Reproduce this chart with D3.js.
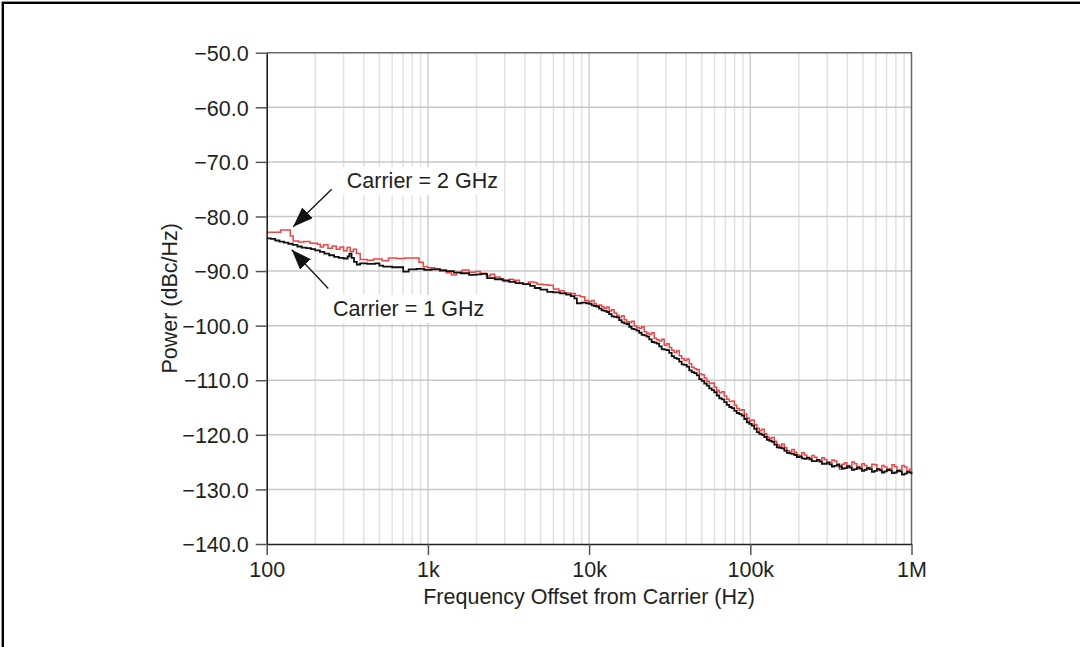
<!DOCTYPE html>
<html>
<head>
<meta charset="utf-8">
<script src="https://cdn.jsdelivr.net/npm/d3@7"></script>
<style>
  html, body { margin: 0; padding: 0; background: #fff; }
  svg { display: block; }
</style>
</head>
<body>
<div id="chart"></div>
<script>
// Phase noise readings [offset Hz, dBc/Hz]
const carrier1GHz = [
  [100, -84.0], [106, -84.1], [113, -84.4], [120, -84.6], [128, -84.8],
  [136, -85.0], [145, -85.2], [155, -85.5], [165, -85.7], [176, -85.8],
  [188, -86.0], [200, -86.2], [214, -86.5], [228, -86.8], [244, -87.1],
  [262, -87.4], [280, -87.6], [300, -87.7], [318, -87.3], [326, -86.8],
  [336, -87.6], [348, -88.3], [362, -88.8], [380, -88.6], [420, -88.7],
  [470, -88.6], [500, -89.0], [528, -89.2], [600, -89.3], [660, -89.3],
  [703, -90.1], [760, -89.7], [850, -89.6], [950, -89.8], [1050, -89.7],
  [1186, -89.9], [1300, -90.0], [1450, -90.3], [1600, -90.4], [1800, -90.7],
  [2000, -90.6], [2150, -90.5], [2330, -91.3], [2600, -91.5], [2900, -91.7],
  [3200, -92.0], [3500, -92.2], [3900, -92.4], [4300, -92.7], [4600, -93.1],
  [5000, -93.4], [5500, -93.8], [6000, -93.9], [6600, -94.1], [7200, -94.3],
  [7700, -94.6], [8100, -95.0], [8400, -95.9], [9000, -95.8], [9600, -95.9],
  [10000, -96.0], [10370, -96.3], [10740, -96.4], [11130, -96.5], [11540, -96.9],
  [11960, -97.2], [12390, -97.3], [12840, -97.5], [13310, -97.9], [13800, -98.3],
  [14300, -98.4], [14820, -98.5], [15360, -99.0], [15920, -99.4], [16500, -99.6],
  [17100, -99.7], [17720, -100.2], [18360, -100.6], [19030, -100.7], [19720, -100.9],
  [20440, -101.3], [21190, -101.7], [21960, -101.8], [22760, -102.0], [23590, -102.5],
  [24450, -103.0], [25340, -103.1], [26260, -103.3], [27210, -103.8], [28200, -104.3],
  [29230, -104.4], [30290, -104.5], [31400, -105.0], [32540, -105.6], [33720, -105.9],
  [34950, -106.1], [36220, -106.6], [37540, -107.1], [38910, -107.2], [40320, -107.5],
  [41790, -108.2], [43310, -108.5], [44890, -108.7], [46520, -109.1], [48210, -109.8],
  [49970, -110.1], [51790, -110.6], [53670, -111.0], [55620, -111.5], [57650, -111.8],
  [59740, -112.2], [61920, -112.8], [64170, -113.3], [66510, -113.5], [68930, -114.0],
  [71430, -114.5], [74030, -114.9], [76730, -115.1], [79520, -115.6], [82410, -116.0],
  [85410, -116.2], [88520, -116.5], [91740, -117.1], [95080, -117.7], [98540, -118.0],
  [102100, -118.3], [105800, -118.9], [109700, -119.5], [113700, -119.8], [117800, -120.0],
  [122100, -120.4], [126600, -120.9], [131200, -121.1], [135900, -121.3], [140900, -121.8],
  [146000, -122.3], [151300, -122.4], [156800, -122.5], [162500, -122.9], [168400, -123.3],
  [174600, -123.4], [180900, -123.5], [187500, -123.7], [194300, -124.1], [201400, -124.0],
  [208700, -124.3], [216300, -124.4], [224200, -124.2], [232400, -124.5], [240900, -124.8],
  [249600, -124.8], [258700, -124.6], [268100, -124.9], [277900, -125.3], [288000, -125.3],
  [298500, -125.1], [309300, -125.4], [320600, -125.8], [332200, -125.7], [344300, -125.5],
  [356800, -125.8], [369800, -126.2], [383300, -126.1], [397200, -125.8], [411700, -126.0],
  [426700, -126.4], [442200, -126.3], [458300, -126.0], [475000, -126.2], [492300, -126.6],
  [510200, -126.4], [528800, -126.1], [548000, -126.3], [567900, -126.8], [588600, -126.6],
  [610000, -126.3], [632200, -126.5], [655200, -126.9], [679100, -126.7], [703800, -126.4],
  [729400, -126.5], [756000, -127.0], [783500, -126.9], [812000, -126.6], [841500, -126.7],
  [872200, -127.3], [903900, -127.1], [936800, -126.8], [970800, -126.9], [1000000, -127.2]
];

const carrier2GHz = [
  [100, -82.9], [113, -82.9], [122, -82.5], [137, -82.5], [140, -83.6],
  [146, -84.5], [158, -84.7], [170, -84.6], [186, -84.9], [206, -85.1],
  [215, -85.6], [225, -85.2], [240, -85.8], [255, -85.4], [270, -86.0],
  [285, -85.6], [300, -86.3], [315, -85.7], [330, -86.4], [345, -86.0],
  [360, -86.8], [380, -87.9], [420, -88.0], [460, -87.8], [520, -88.1],
  [570, -87.6], [640, -87.7], [720, -87.6], [800, -87.6], [880, -88.4],
  [935, -89.2], [1000, -89.4], [1100, -89.6], [1186, -89.8], [1300, -90.3],
  [1400, -90.7], [1500, -90.2], [1634, -89.8], [1800, -90.2], [1970, -90.1],
  [2112, -90.4], [2300, -90.9], [2438, -90.6], [2600, -91.1], [2800, -91.4],
  [2950, -91.9], [3200, -91.5], [3400, -91.7], [3700, -92.3], [3925, -92.4],
  [4200, -92.0], [4528, -92.1], [4753, -92.4], [5200, -92.5], [5600, -92.6],
  [6000, -93.3], [6500, -93.6], [7000, -94.0], [7654, -94.1], [8200, -94.5],
  [8831, -94.7], [9400, -95.4],
  [10000, -95.6], [10370, -95.4], [10740, -96.0], [11130, -96.4], [11540, -96.2],
  [11960, -96.5], [12390, -96.8], [12840, -96.6], [13310, -97.3], [13800, -97.1],
  [14300, -97.7], [14820, -98.1], [15360, -98.5], [15920, -98.2], [16500, -98.9],
  [17100, -99.3], [17720, -99.4], [18360, -99.2], [19030, -100.0], [19720, -100.3],
  [20440, -100.5], [21190, -100.2], [21960, -101.1], [22760, -101.4], [23590, -101.6],
  [24450, -101.3], [25340, -102.3], [26260, -102.6], [27210, -102.8], [28200, -102.5],
  [29230, -103.6], [30290, -103.3], [31400, -104.0], [32540, -104.5], [33720, -104.9],
  [34950, -104.6], [36220, -105.5], [37540, -106.0], [38910, -106.4], [40320, -106.1],
  [41790, -107.0], [43310, -107.6], [44890, -107.9], [46520, -108.1], [48210, -108.8],
  [49970, -109.0], [51790, -109.6], [53670, -110.2], [55620, -110.6], [57650, -110.5],
  [59740, -111.3], [61920, -111.9], [64170, -112.3], [66510, -112.1], [68930, -112.9],
  [71430, -113.5], [74030, -113.9], [76730, -113.8], [79520, -114.6], [82410, -115.2],
  [85410, -115.5], [88520, -115.4], [91740, -116.2], [95080, -116.9], [98540, -117.4],
  [102100, -117.3], [105800, -118.1], [109700, -118.8], [113700, -119.2], [117800, -119.0],
  [122100, -119.8], [126600, -120.4], [131200, -120.7], [135900, -120.5], [140900, -121.2],
  [146000, -121.8], [151300, -122.1], [156800, -121.7], [162500, -122.3], [168400, -122.9],
  [174600, -123.1], [180900, -122.7], [187500, -123.2], [194300, -123.7], [201400, -123.8],
  [208700, -123.3], [216300, -123.7], [224200, -124.2], [232400, -124.3], [240900, -123.8],
  [249600, -124.1], [258700, -124.6], [268100, -124.7], [277900, -124.2], [288000, -124.5],
  [298500, -125.0], [309300, -125.1], [320600, -124.6], [332200, -124.8], [344300, -125.3],
  [356800, -126.3], [369800, -125.4], [383300, -125.1], [397200, -125.6], [411700, -125.7],
  [426700, -125.0], [442200, -125.3], [458300, -125.8], [475000, -125.9], [492300, -125.3],
  [510200, -125.6], [528800, -126.1], [548000, -126.0], [567900, -125.4], [588600, -125.5],
  [610000, -126.2], [632200, -126.3], [655200, -125.6], [679100, -125.9], [703800, -126.4],
  [729400, -126.2], [756000, -125.5], [783500, -125.8], [812000, -126.5], [841500, -126.4],
  [872200, -125.6], [903900, -125.9], [936800, -126.6], [970800, -126.3], [1000000, -126.0]
];

const xTicks = [100, 1e3, 1e4, 1e5, 1e6];
const xTickLabels = ["100", "1k", "10k", "100k", "1M"];
const yTicks = [-50, -60, -70, -80, -90, -100, -110, -120, -130, -140];

// callouts: text, label anchor (Hz, dB), arrow tail and tip (Hz, dB)
const callouts = [
  { text: "Carrier = 2 GHz", label: [314, -74.8], tail: [253, -75.0], tip: [146, -81.9] },
  { text: "Carrier = 1 GHz", label: [258, -98.2], tail: [241, -93.2], tip: [143, -86.1] }
];

const width = 1080;
const height = 647;
const plotLeft = 266.7;
const plotRight = 911.5;
const plotTop = 52.7;
const plotBottom = 544;

const fontFamily = "'Liberation Sans', Arial, Helvetica, sans-serif";
const fontSize = 21.5;
const redColor = "#f04545";

const svg = d3.create("svg")
  .attr("width", width)
  .attr("height", height)
  .attr("viewBox", [0, 0, width, height])
  .style("font-family", fontFamily);

// page frame (only top/left edges fall inside the picture)
svg.append("rect")
  .attr("x", 2.8)
  .attr("y", 2.8)
  .attr("width", width + 20)
  .attr("height", height + 20)
  .attr("fill", "none")
  .attr("stroke", "#000")
  .attr("stroke-width", 2.4);

const x = d3.scaleLog().domain([100, 1e6]).range([plotLeft, plotRight]);
const y = d3.scaleLinear().domain([-140, -50]).range([plotBottom, plotTop]);

// minor vertical grid
const minorTicks = [];
for (let dec = 100; dec < 1e6; dec *= 10) {
  for (let m = 2; m <= 9; m++) minorTicks.push(dec * m);
}

const grid = svg.append("g");

grid.selectAll(".minor")
  .data(minorTicks)
  .join("line")
  .attr("x1", (d) => x(d))
  .attr("x2", (d) => x(d))
  .attr("y1", plotTop)
  .attr("y2", plotBottom)
  .attr("stroke", "#e2e2e2")
  .attr("stroke-width", 1.5);

grid.selectAll(".major-x")
  .data(xTicks.slice(1, -1))
  .join("line")
  .attr("x1", (d) => x(d))
  .attr("x2", (d) => x(d))
  .attr("y1", plotTop)
  .attr("y2", plotBottom)
  .attr("stroke", "#cfcfcf")
  .attr("stroke-width", 1.5);

grid.selectAll(".major-y")
  .data(yTicks.slice(1, -1))
  .join("line")
  .attr("x1", plotLeft)
  .attr("x2", plotRight)
  .attr("y1", (d) => y(d))
  .attr("y2", (d) => y(d))
  .attr("stroke", "#c8c8c8")
  .attr("stroke-width", 1.5);

// callout labels with white backing
const calloutG = svg.append("g");
callouts.forEach((c) => {
  c.node = calloutG.append("text")
    .attr("x", x(c.label[0]))
    .attr("y", y(c.label[1]))
    .attr("font-size", fontSize)
    .attr("fill", "#231f20")
    .text(c.text);
});

// top / right frame
svg.append("path")
  .attr("d", `M${plotLeft},${plotTop}H${plotRight}V${plotBottom}`)
  .attr("fill", "none")
  .attr("stroke", "#6a6a6a")
  .attr("stroke-width", 1.5);

const line = d3.line()
  .curve(d3.curveStepAfter)
  .x((d) => x(d[0]))
  .y((d) => y(d[1]));

svg.append("path")
  .datum(carrier2GHz)
  .attr("fill", "none")
  .attr("stroke", redColor)
  .attr("stroke-width", 1.5)
  .attr("d", line);

svg.append("path")
  .datum(carrier1GHz)
  .attr("fill", "none")
  .attr("stroke", "#111")
  .attr("stroke-width", 1.8)
  .attr("d", line);

// axes
const xAxis = svg.append("g")
  .attr("transform", `translate(0,${plotBottom})`)
  .call(d3.axisBottom(x).tickValues(xTicks).tickSize(11).tickSizeOuter(0)
    .tickFormat((d, i) => xTickLabels[i]));

const yAxis = svg.append("g")
  .attr("transform", `translate(${plotLeft},0)`)
  .call(d3.axisLeft(y).tickValues(yTicks).tickSize(11).tickSizeOuter(0)
    .tickFormat(d3.format(".1f")));

[xAxis, yAxis].forEach((g) => {
  g.select(".domain").attr("stroke", "#231f20").attr("stroke-width", 1.6);
  g.selectAll(".tick line").attr("stroke", "#555").attr("stroke-width", 1.5);
  g.selectAll(".tick text")
    .attr("font-size", fontSize)
    .attr("font-family", fontFamily)
    .attr("fill", "#231f20");
});

xAxis.selectAll(".tick text").attr("y", 18).attr("dy", "0.71em");
yAxis.selectAll(".tick text").attr("x", -18).attr("dy", "0.36em");

// axis titles
svg.append("text")
  .attr("x", (plotLeft + plotRight) / 2)
  .attr("y", 604)
  .attr("text-anchor", "middle")
  .attr("font-size", fontSize)
  .attr("fill", "#231f20")
  .text("Frequency Offset from Carrier (Hz)");

svg.append("text")
  .attr("transform", `translate(176.5,${(plotTop + plotBottom) / 2}) rotate(-90)`)
  .attr("text-anchor", "middle")
  .attr("font-size", fontSize)
  .attr("fill", "#231f20")
  .text("Power (dBc/Hz)");

// arrow head marker
svg.append("defs")
  .append("marker")
  .attr("id", "arrowHead")
  .attr("markerUnits", "userSpaceOnUse")
  .attr("viewBox", "0 0 20 15")
  .attr("refX", 20)
  .attr("refY", 7.5)
  .attr("markerWidth", 20)
  .attr("markerHeight", 15)
  .attr("orient", "auto")
  .append("path")
  .attr("d", "M0,0L20,7.5L0,15Z")
  .attr("fill", "#111");

callouts.forEach((c) => {
  svg.append("line")
    .attr("x1", x(c.tail[0]))
    .attr("y1", y(c.tail[1]))
    .attr("x2", x(c.tip[0]))
    .attr("y2", y(c.tip[1]))
    .attr("stroke", "#111")
    .attr("stroke-width", 1.3)
    .attr("marker-end", "url(#arrowHead)");
});

document.querySelector("#chart").appendChild(svg.node());

// white boxes behind callout text (need layout first)
callouts.forEach((c) => {
  const b = c.node.node().getBBox();
  calloutG.insert("rect", "text")
    .attr("x", b.x - 4)
    .attr("y", b.y - 2)
    .attr("width", b.width + 8)
    .attr("height", b.height + 4)
    .attr("fill", "#fff");
});
</script>
</body>
</html>
